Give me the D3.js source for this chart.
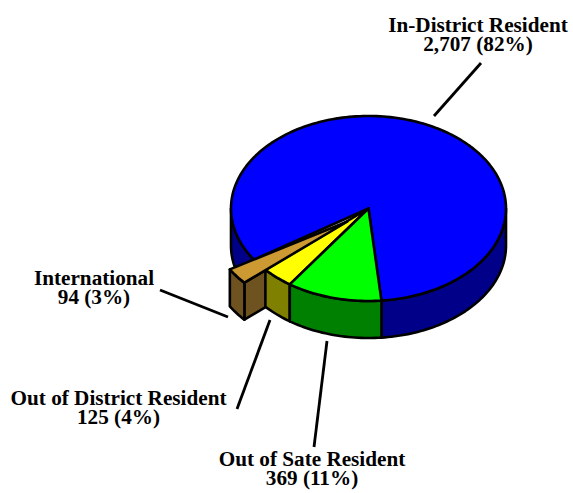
<!DOCTYPE html>
<html>
<head>
<meta charset="utf-8">
<script src="https://cdn.jsdelivr.net/npm/d3@7"></script>
<style>
html, body { margin: 0; padding: 0; background: #fff; }
svg { display: block; }
text { font-family: "Liberation Serif", serif; font-weight: bold; font-size: 21.2px; fill: #000; text-anchor: middle; }
</style>
</head>
<body>
<div id="chart"></div>
<script>
// clockwise from the first edge of the green slice
var categories = ['Out of Sate Resident', 'Out of District Resident', 'International', 'In-District Resident'];
var counts = [369, 125, 94, 2707];
var percents = [11, 4, 3, 82];
var topColors = ['#00ff00', '#ffff00', '#cc9933', '#0000ff'];
var sideColors = ['#008000', '#808000', '#6e5220', '#000088'];

var cx = 368.5, cy = 208.5, rx = 137.5, ry = 92.5, depth = 37;
var startDeg = 174.6;
var explodeIndex = 2;
var explode = [-21, 13];

// where each label and its leader line sit
var labelPos = [[312, 466], [118.5, 405], [94, 285], [478, 31.5]];
var leaders = [[[327, 341], [314, 447]], [[270, 320], [237, 409]], [[160, 290], [228, 317]], [[481, 63], [434, 116]]];

var svg = d3.select('#chart').append('svg')
    .attr('width', 573)
    .attr('height', 493)
    .attr('viewBox', '0 0 573 493');

var pie = d3.pie()
    .sort(null)
    .startAngle(startDeg * Math.PI / 180)
    .endAngle((startDeg + 360) * Math.PI / 180);

var slices = pie(counts);

function pt(a, dy, off) {
    return [cx + off[0] + rx * Math.sin(a), cy + off[1] + dy - ry * Math.cos(a)];
}

function arcPts(a0, a1, dy, off) {
    var n = Math.max(2, Math.ceil((a1 - a0) * 40));
    return d3.range(n + 1).map(function(i) {
        return pt(a0 + (a1 - a0) * i / n, dy, off);
    });
}

var line = d3.line();

function drawTop(a0, a1, off, fill) {
    var pts = [[cx + off[0], cy + off[1]]].concat(arcPts(a0, a1, 0, off));
    svg.append('path')
        .attr('d', line(pts) + 'Z')
        .attr('fill', fill)
        .attr('stroke', '#000')
        .attr('stroke-width', 2.6)
        .attr('stroke-linejoin', 'round');
}

function drawSide(a0, a1, off, fill) {
    // only the front half of the rim shows
    var lo = Math.PI / 2, hi = Math.PI * 3 / 2;
    [0, 2 * Math.PI].forEach(function(shift) {
        var s = Math.max(a0, lo + shift), e = Math.min(a1, hi + shift);
        if (e <= s) return;
        var pts = arcPts(s, e, 0, off).concat(arcPts(s, e, depth, off).reverse());
        svg.append('path')
            .attr('d', line(pts) + 'Z')
            .attr('fill', fill)
            .attr('stroke', '#000')
            .attr('stroke-width', 2.6)
            .attr('stroke-linejoin', 'round');
    });
}

var none = [0, 0];

// blue first, pulled a bit under the exploded slice so no gap opens
var blue = slices[3];
var bleed = 2.4 * Math.PI / 180;
drawSide(blue.startAngle - bleed, blue.endAngle, none, sideColors[3]);
drawTop(blue.startAngle - bleed, blue.endAngle, none, topColors[3]);

// cut face of the exploded slice, the rest of it gets covered by green and yellow
var tan = slices[explodeIndex];
var apex = [cx + explode[0], cy + explode[1]];
var corner = pt(tan.startAngle, 0, explode);
svg.append('path')
    .attr('d', line([apex, corner, [corner[0], corner[1] + depth], [apex[0], apex[1] + depth]]) + 'Z')
    .attr('fill', sideColors[explodeIndex])
    .attr('stroke', '#000')
    .attr('stroke-width', 2.6)
    .attr('stroke-linejoin', 'round');

[1, 0].forEach(function(i) {
    drawSide(slices[i].startAngle, slices[i].endAngle, none, sideColors[i]);
    drawTop(slices[i].startAngle, slices[i].endAngle, none, topColors[i]);
});

drawSide(tan.startAngle, tan.endAngle, explode, sideColors[explodeIndex]);
drawTop(tan.startAngle, tan.endAngle, explode, topColors[explodeIndex]);

svg.selectAll('line.leader')
    .data(leaders)
    .enter()
    .append('line')
    .classed('leader', true)
    .attr('x1', function(d) { return d[0][0]; })
    .attr('y1', function(d) { return d[0][1]; })
    .attr('x2', function(d) { return d[1][0]; })
    .attr('y2', function(d) { return d[1][1]; })
    .attr('stroke', '#000')
    .attr('stroke-width', 2.8);

categories.forEach(function(name, i) {
    var t = svg.append('text')
        .attr('x', labelPos[i][0])
        .attr('y', labelPos[i][1]);
    t.append('tspan').text(name);
    t.append('tspan')
        .attr('x', labelPos[i][0])
        .attr('dy', 19)
        .text(d3.format(',')(counts[i]) + ' (' + percents[i] + '%)');
});
</script>
</body>
</html>
